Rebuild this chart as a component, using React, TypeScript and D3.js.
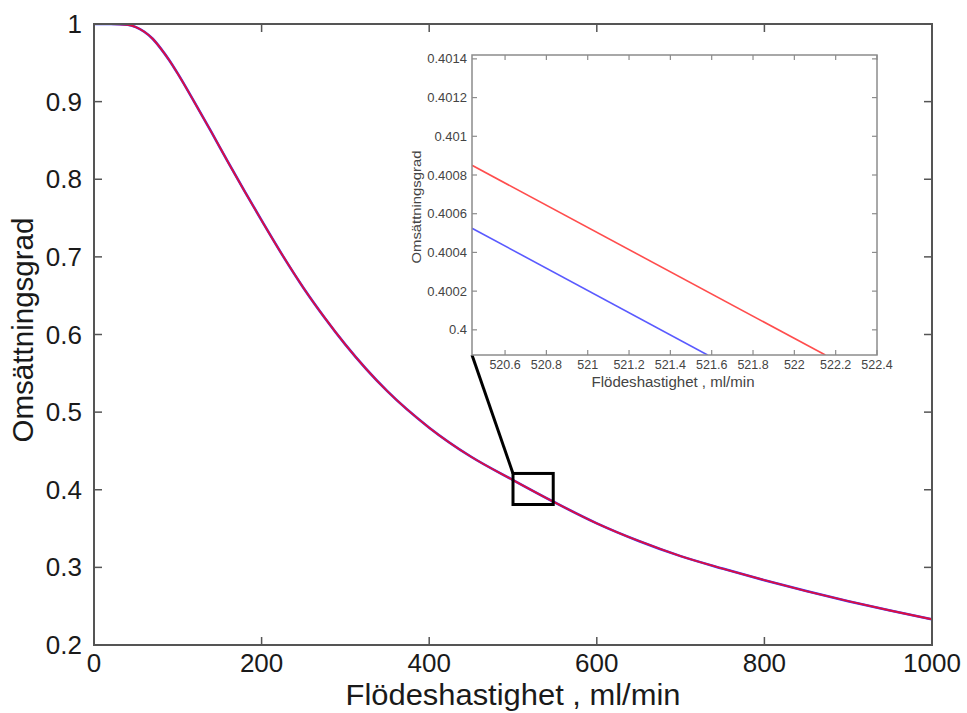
import React from "react";
import * as d3 from "d3";

// Main curve: flow rate (ml/min) vs conversion
const flowRate = [0, 20, 40, 50, 60, 70, 80, 90, 100, 120, 140, 160, 180, 200, 225, 250, 275, 300, 350, 400, 450, 500, 550, 600, 650, 700, 750, 800, 850, 900, 950, 1000];
const conversion = [1, 1, 0.999, 0.996, 0.99, 0.981, 0.968, 0.953, 0.936, 0.899, 0.861, 0.822, 0.784, 0.747, 0.702, 0.66, 0.622, 0.587, 0.527, 0.48, 0.4425, 0.4125, 0.3836, 0.3567, 0.334, 0.3145, 0.2985, 0.2835, 0.2695, 0.2565, 0.2445, 0.2331];

const xTicks = [0, 200, 400, 600, 800, 1000];
const xTickLabels = ["0", "200", "400", "600", "800", "1000"];
const yTicks = [0.2, 0.3, 0.4, 0.5, 0.6, 0.7, 0.8, 0.9, 1];
const yTickLabels = ["0.2", "0.3", "0.4", "0.5", "0.6", "0.7", "0.8", "0.9", "1"];

// Zoom box on main plot (data units)
const zoomBoxX = [500, 548];
const zoomBoxY = [0.381, 0.421];

// Inset data
const insetRedX = [520.44, 522.15];
const insetRedY = [0.40085, 0.39987];
const insetBlueX = [520.44, 521.58];
const insetBlueY = [0.400525, 0.39987];
const insetXDomain = [520.44, 522.4];
const insetYDomain = [0.39987, 0.40142];
const insetXTicks = [520.6, 520.8, 521, 521.2, 521.4, 521.6, 521.8, 522, 522.2, 522.4];
const insetXTickLabels = ["520.6", "520.8", "521", "521.2", "521.4", "521.6", "521.8", "522", "522.2", "522.4"];
const insetYTicks = [0.4, 0.4002, 0.4004, 0.4006, 0.4008, 0.401, 0.4012, 0.4014];
const insetYTickLabels = ["0.4", "0.4002", "0.4004", "0.4006", "0.4008", "0.401", "0.4012", "0.4014"];

const FONT = "'Liberation Sans', Arial, Helvetica, sans-serif";

export default function App() {
  const W = 967, H = 713;
  const m = { left: 94, right: 932, top: 24, bottom: 645 };
  const x = d3.scaleLinear().domain([0, 1000]).range([m.left, m.right]);
  const y = d3.scaleLinear().domain([0.2, 1]).range([m.bottom, m.top]);

  const ins = { left: 472, right: 877, top: 55, bottom: 355 };
  const ix = d3.scaleLinear().domain(insetXDomain).range([ins.left, ins.right]);
  const iy = d3.scaleLinear().domain(insetYDomain).range([ins.bottom, ins.top]);

  const mainData = flowRate.map((f, i) => [f, conversion[i]] as [number, number]);
  const line = d3.line<[number, number]>().x(d => x(d[0])).y(d => y(d[1])).curve(d3.curveMonotoneX);
  const mainPath = line(mainData) || "";

  const iline = d3.line<[number, number]>().x(d => ix(d[0])).y(d => iy(d[1]));
  const redPath = iline(insetRedX.map((v, i) => [v, insetRedY[i]] as [number, number])) || "";
  const bluePath = iline(insetBlueX.map((v, i) => [v, insetBlueY[i]] as [number, number])) || "";

  const frame = "#555";
  const tickLen = 8;
  const iframe = "#8c8c8c";
  const itick = 5;

  const boxX0 = x(zoomBoxX[0]), boxX1 = x(zoomBoxX[1]);
  const boxY0 = y(zoomBoxY[1]), boxY1 = y(zoomBoxY[0]);

  return (
    <svg width={W} height={H} style={{ position: "absolute", left: 0, top: 0, background: "#fff" }} fontFamily={FONT}>
      <defs>
        <clipPath id="mainClip">
          <rect x={m.left} y={m.top} width={m.right - m.left} height={m.bottom - m.top} />
        </clipPath>
        <clipPath id="insetClip">
          <rect x={ins.left} y={ins.top} width={ins.right - ins.left} height={ins.bottom - ins.top} />
        </clipPath>
      </defs>

      {/* main curve */}
      <g clipPath="url(#mainClip)">
        <path d={mainPath} fill="none" stroke="#3a3aff" strokeWidth={2.6} />
        <path d={mainPath} fill="none" stroke="#dc0f40" strokeWidth={1.9} />
      </g>

      {/* main frame */}
      <rect x={m.left} y={m.top} width={m.right - m.left} height={m.bottom - m.top} fill="none" stroke={frame} strokeWidth={2} />
      {xTicks.map((t, i) => (
        <g key={"xt" + i}>
          <line x1={x(t)} x2={x(t)} y1={m.bottom} y2={m.bottom - tickLen} stroke={frame} strokeWidth={1.5} />
          <line x1={x(t)} x2={x(t)} y1={m.top} y2={m.top + tickLen} stroke={frame} strokeWidth={1.5} />
          <text x={x(t)} y={m.bottom + 27} fontSize={26} textAnchor="middle" fill="#1a1a1a">{xTickLabels[i]}</text>
        </g>
      ))}
      {yTicks.map((t, i) => (
        <g key={"yt" + i}>
          <line x1={m.left} x2={m.left + tickLen} y1={y(t)} y2={y(t)} stroke={frame} strokeWidth={1.5} />
          <line x1={m.right} x2={m.right - tickLen} y1={y(t)} y2={y(t)} stroke={frame} strokeWidth={1.5} />
          <text x={m.left - 12} y={y(t) + 9} fontSize={26} textAnchor="end" fill="#1a1a1a">{yTickLabels[i]}</text>
        </g>
      ))}
      <text x={513} y={705} fontSize={30} textAnchor="middle" fill="#1a1a1a" textLength={335} lengthAdjust="spacingAndGlyphs">Flödeshastighet , ml/min</text>
      <text transform={`translate(33,${330}) rotate(-90)`} fontSize={30} textAnchor="middle" fill="#1a1a1a" textLength={225} lengthAdjust="spacingAndGlyphs">Omsättningsgrad</text>

      {/* zoom box and connector */}
      <rect x={boxX0} y={boxY0} width={boxX1 - boxX0} height={boxY1 - boxY0} fill="none" stroke="#000" strokeWidth={3} />
      <line x1={ix(insetXDomain[0])} y1={iy(insetYDomain[0])} x2={boxX0} y2={boxY0} stroke="#000" strokeWidth={3} />

      {/* inset */}
      <rect x={ins.left} y={ins.top} width={ins.right - ins.left} height={ins.bottom - ins.top} fill="#fff" />
      <g clipPath="url(#insetClip)">
        <path d={redPath} fill="none" stroke="#ff4d4d" strokeWidth={1.6} />
        <path d={bluePath} fill="none" stroke="#5a5aff" strokeWidth={1.6} />
      </g>
      <rect x={ins.left} y={ins.top} width={ins.right - ins.left} height={ins.bottom - ins.top} fill="none" stroke={iframe} strokeWidth={1.5} />
      {insetXTicks.map((t, i) => (
        <g key={"ixt" + i}>
          <line x1={ix(t)} x2={ix(t)} y1={ins.bottom} y2={ins.bottom - itick} stroke={iframe} strokeWidth={1.2} />
          <line x1={ix(t)} x2={ix(t)} y1={ins.top} y2={ins.top + itick} stroke={iframe} strokeWidth={1.2} />
          <text x={ix(t)} y={ins.bottom + 14} fontSize={12.5} textAnchor="middle" fill="#444">{insetXTickLabels[i]}</text>
        </g>
      ))}
      {insetYTicks.map((t, i) => (
        <g key={"iyt" + i}>
          <line x1={ins.left} x2={ins.left + itick} y1={iy(t)} y2={iy(t)} stroke={iframe} strokeWidth={1.2} />
          <line x1={ins.right} x2={ins.right - itick} y1={iy(t)} y2={iy(t)} stroke={iframe} strokeWidth={1.2} />
          <text x={ins.left - 5} y={iy(t) + 4.5} fontSize={13} textAnchor="end" fill="#444">{insetYTickLabels[i]}</text>
        </g>
      ))}
      <text x={673} y={387} fontSize={14} textAnchor="middle" fill="#444" textLength={163} lengthAdjust="spacingAndGlyphs">Flödeshastighet , ml/min</text>
      <text transform={`translate(421,${207}) rotate(-90)`} fontSize={13} textAnchor="middle" fill="#444" textLength={113} lengthAdjust="spacingAndGlyphs">Omsättningsgrad</text>
    </svg>
  );
}
